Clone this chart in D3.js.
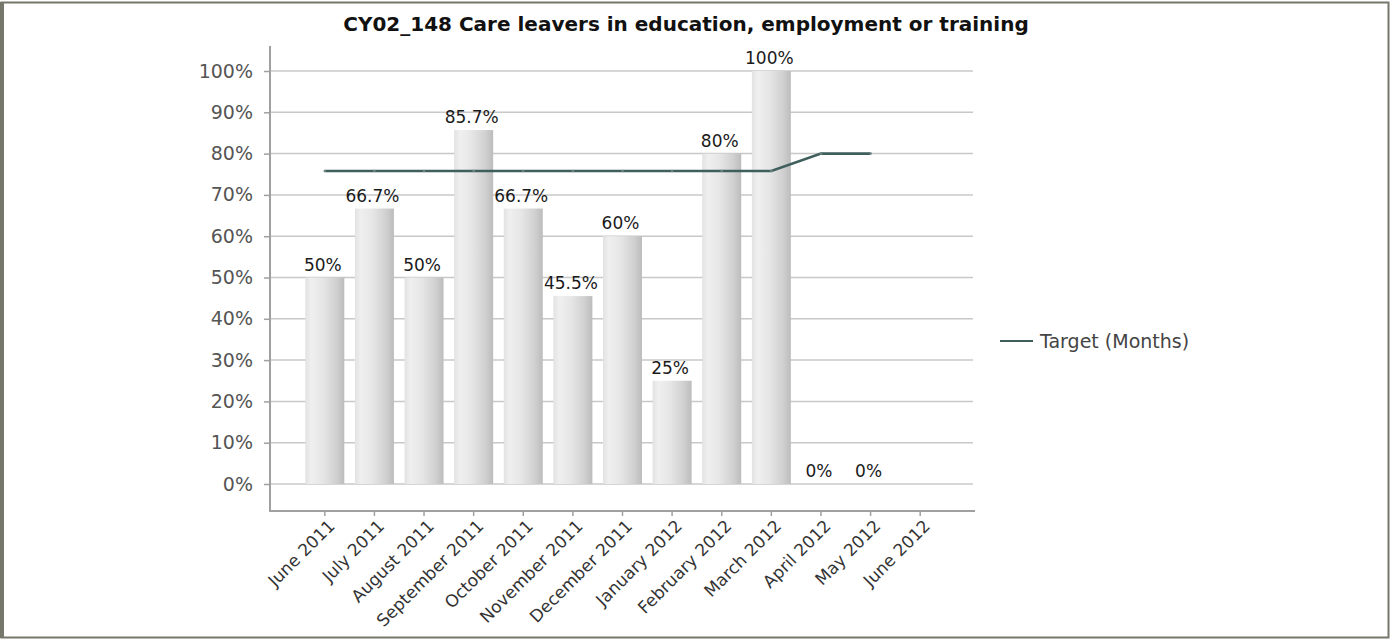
<!DOCTYPE html>
<html>
<head>
<meta charset="utf-8">
<script src="https://cdn.jsdelivr.net/npm/d3@7"></script>
<style>
  html, body { margin: 0; padding: 0; background: #fff; }
  svg { display: block; }
  text { font-family: "DejaVu Sans", Verdana, sans-serif; }
</style>
</head>
<body>
<svg id="chart" width="1391" height="639"></svg>
<script>
// ---- data ----
const categories = ["June 2011", "July 2011", "August 2011", "September 2011", "October 2011",
  "November 2011", "December 2011", "January 2012", "February 2012", "March 2012",
  "April 2012", "May 2012", "June 2012"];
const actualValues = [50, 66.7, 50, 85.7, 66.7, 45.5, 60, 25, 80, 100, 0, 0, null];
const targetValues = [75.8, 75.8, 75.8, 75.8, 75.8, 75.8, 75.8, 75.8, 75.8, 75.8, 80, 80, null];
const yTickValues = [0, 10, 20, 30, 40, 50, 60, 70, 80, 90, 100];
const titleText = "CY02_148 Care leavers in education, employment or training";
const legendLabel = "Target (Months)";

// ---- layout ----
const W = 1391, H = 639;
const plot = { left: 270, right: 974, top: 46, bottom: 511 };
const svg = d3.select("#chart");

// frame
svg.append("rect").attr("x", 1.5).attr("y", 2.5).attr("width", 1387).attr("height", 635)
  .attr("fill", "#fff").attr("stroke", "#76776b").attr("stroke-width", 2);
svg.append("line").attr("x1", 2).attr("x2", 2).attr("y1", 2).attr("y2", 638)
  .attr("stroke", "#76776b").attr("stroke-width", 4);

const defs = svg.append("defs");
const grad = defs.append("linearGradient").attr("id", "barGrad")
  .attr("x1", "0%").attr("x2", "100%").attr("y1", "0%").attr("y2", "0%");
[[0, "#e2e2e2"], [0.15, "#efefef"], [0.45, "#e6e6e6"], [0.8, "#d0d0d0"], [1, "#bcbcbc"]]
  .forEach(([o, c]) => grad.append("stop").attr("offset", o).attr("stop-color", c));

// scales
const y = d3.scaleLinear().domain([0, 100]).range([484, 71]);
const x = d3.scaleBand().domain(categories).range([300, 945])
  .paddingInner(0.214).paddingOuter(0.107);

// gridlines
svg.append("g").selectAll("line").data(yTickValues).join("line")
  .attr("x1", plot.left).attr("x2", plot.right - 1)
  .attr("y1", d => y(d)).attr("y2", d => y(d))
  .attr("stroke", "#c8c8c8").attr("stroke-width", 1.5);

// y axis
const yAxis = d3.axisLeft(y).tickValues(yTickValues).tickSize(6).tickPadding(11)
  .tickFormat(d => d + "%");
const gy = svg.append("g").attr("transform", `translate(${plot.left},0)`).call(yAxis);
gy.select(".domain").remove();
gy.selectAll(".tick line").attr("stroke", "#a0a0a0").attr("stroke-width", 1.5);
gy.selectAll(".tick text").attr("fill", "#555").style("font-size", "19px")
  .style("font-family", "'DejaVu Sans', Verdana, sans-serif");

svg.append("line").attr("x1", plot.left).attr("x2", plot.left)
  .attr("y1", plot.top).attr("y2", plot.bottom)
  .attr("stroke", "#a0a0a0").attr("stroke-width", 2);

// bars
const barData = categories.map((c, i) => ({ c, v: actualValues[i] })).filter(d => d.v !== null);
svg.append("g").selectAll("rect").data(barData).join("rect")
  .attr("x", d => x(d.c)).attr("width", x.bandwidth())
  .attr("y", d => y(d.v)).attr("height", d => y(0) - y(d.v))
  .attr("fill", "url(#barGrad)");

// data labels
svg.append("g").selectAll("text").data(barData).join("text")
  .attr("x", d => x(d.c) + x.bandwidth() / 2 - 2)
  .attr("y", d => y(d.v) - 7)
  .attr("text-anchor", "middle")
  .attr("fill", "#1a1a1a").style("font-size", "17px")
  .text(d => d.v + "%");

// x axis
const xAxis = d3.axisBottom(x).tickSize(5).tickFormat("");
const gx = svg.append("g").attr("transform", `translate(0,${plot.bottom})`).call(xAxis);
gx.select(".domain").remove();
gx.selectAll(".tick line").attr("stroke", "#a0a0a0").attr("stroke-width", 1.5);
svg.append("line").attr("x1", plot.left - 1).attr("x2", plot.right + 1)
  .attr("y1", plot.bottom).attr("y2", plot.bottom)
  .attr("stroke", "#a0a0a0").attr("stroke-width", 2);

svg.append("g").selectAll("text").data(categories).join("text")
  .attr("transform", d => `translate(${x(d) + x.bandwidth() / 2 + 11},${plot.bottom + 16}) rotate(-45)`)
  .attr("text-anchor", "end")
  .attr("fill", "#333").style("font-size", "17px")
  .text(d => d);

// target line
const lineData = categories.map((c, i) => ({ c, v: targetValues[i] })).filter(d => d.v !== null);
const line = d3.line().x(d => x(d.c) + x.bandwidth() / 2).y(d => y(d.v));
svg.append("path").datum(lineData).attr("d", line)
  .attr("fill", "none").attr("stroke", "#3f5f5d").attr("stroke-width", 2.6);
svg.append("g").selectAll("circle").data(lineData).join("circle")
  .attr("cx", d => x(d.c) + x.bandwidth() / 2).attr("cy", d => y(d.v)).attr("r", 1.3)
  .attr("fill", "#6f8584");

// title
svg.append("text").attr("x", 686).attr("y", 31).attr("text-anchor", "middle")
  .attr("fill", "#111").style("font-size", "20px").style("font-weight", "bold")
  .text(titleText);

// legend
svg.append("line").attr("x1", 1000).attr("x2", 1033).attr("y1", 341).attr("y2", 341)
  .attr("stroke", "#3f5f5d").attr("stroke-width", 2);
svg.append("text").attr("x", 1040).attr("y", 348).attr("fill", "#444")
  .style("font-size", "19px").text(legendLabel);
</script>
</body>
</html>
